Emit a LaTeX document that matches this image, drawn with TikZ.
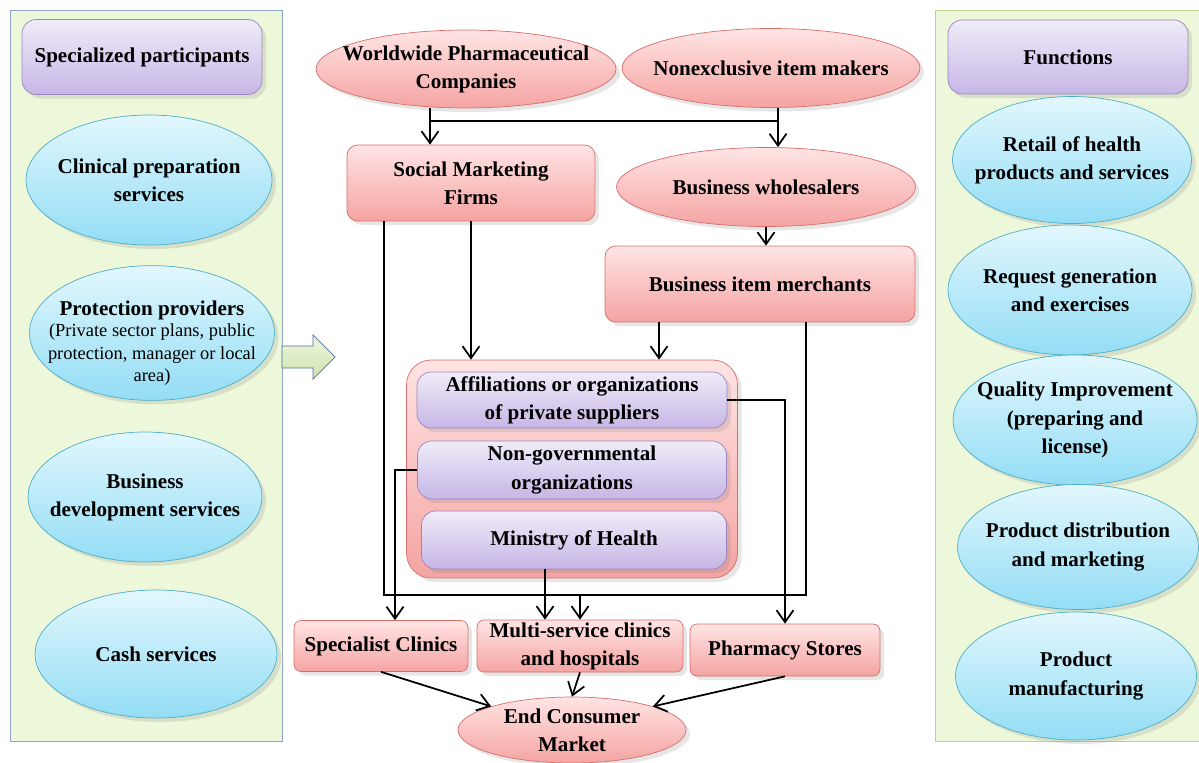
\documentclass[tikz,border=0pt]{standalone}
\usepackage{fontspec}
\setmainfont{Liberation Serif}
\usetikzlibrary{shapes, arrows.meta, calc, shadows}

\definecolor{pinkline}{HTML}{D66E6B}
\definecolor{pinktop}{HTML}{FFE4E4}
\definecolor{pinkbot}{HTML}{F4A4A2}
\definecolor{purpline}{HTML}{9A84C2}
\definecolor{purptop}{HTML}{F0ECF8}
\definecolor{purpbot}{HTML}{C6B6E6}
\definecolor{blueline}{HTML}{4FAEC8}
\definecolor{bluetop}{HTML}{E2F7FD}
\definecolor{bluebot}{HTML}{93DDF5}
\definecolor{panelfill}{HTML}{EDF7DA}
\definecolor{leftline}{HTML}{90A6C8}
\definecolor{rightline}{HTML}{B8D78E}
\definecolor{hollowline}{HTML}{4F6FA8}

\begin{document}
\begin{tikzpicture}[x=0.02cm, y=-0.02cm,
    pinkbox/.style={rectangle, draw=pinkline, top color=pinktop, bottom color=pinkbot, rounded corners=6pt, align=center, inner sep=1pt, font=\fontsize{12}{16}\selectfont\bfseries, drop shadow={opacity=0.2}},
    pinkoval/.style={ellipse, draw=pinkline, top color=pinktop, bottom color=pinkbot, align=center, inner xsep=-30pt, inner ysep=-3pt, font=\fontsize{12}{16}\selectfont\bfseries, drop shadow={opacity=0.2}},
    purpbox/.style={rectangle, draw=purpline, top color=purptop, bottom color=purpbot, rounded corners=8pt, align=center, inner sep=1pt, font=\fontsize{12}{16}\selectfont\bfseries, drop shadow={opacity=0.2}},
    blueoval/.style={ellipse, draw=blueline, top color=bluetop, bottom color=bluebot, align=center, inner xsep=-30pt, inner ysep=-3pt, font=\fontsize{12}{16}\selectfont\bfseries, drop shadow={opacity=0.2}},
    arrow/.style={line width=1pt,->,>={Straight Barb[length=2.4mm,width=3.4mm]}},
    link/.style={line width=1pt}]

    \useasboundingbox (0,0) rectangle (1199,763);

    % side panels
    \draw[fill=panelfill, draw=leftline] (10,10) rectangle (282,741);
    \draw[fill=panelfill, draw=rightline] (935,10) rectangle (1199,741);

    % left column
    \node [purpbox, minimum width=4.8cm, minimum height=1.5cm] (spart) at (142,57) {Specialized participants};
    \node [blueoval, minimum width=4.92cm, minimum height=2.6cm] (clin) at (149,180) {Clinical preparation\\services};
    \node [blueoval, minimum width=4.9cm, minimum height=2.6cm] (prot) at (152,333) {\rule{0pt}{20pt}Protection providers\\[-4pt] \normalfont\fontsize{10.5}{12.5}\selectfont (Private sector plans, public\\[-3pt] \normalfont\fontsize{10.5}{12.5}\selectfont protection, manager or local\\[-3pt] \normalfont\fontsize{10.5}{12.5}\selectfont area)};
    \node [blueoval, minimum width=4.68cm, minimum height=2.6cm] (busdev) at (145,497) {Business\\development services};
    \node [blueoval, minimum width=4.84cm, minimum height=2.56cm] (cash) at (156,654) {Cash services};

    % hollow arrow between panel and chain
    \draw[draw=hollowline, top color=panelfill, bottom color=rightline!70] (282,346) -- (313,346) -- (313,335) -- (335,357) -- (313,379) -- (313,368) -- (282,368) -- cycle;

    % right column
    \node [purpbox, minimum width=4.8cm, minimum height=1.48cm] (func) at (1068,57) {Functions};
    \node [blueoval, minimum width=4.78cm, minimum height=2.54cm] (retail) at (1072,160) {Retail of health\\products and services};
    \node [blueoval, minimum width=4.88cm, minimum height=2.6cm] (request) at (1070,290) {Request generation\\and exercises};
    \node [blueoval, minimum width=4.88cm, minimum height=2.6cm] (quality) at (1075,420) {Quality Improvement\\(preparing and\\license)};
    \node [blueoval, minimum width=4.82cm, minimum height=2.5cm] (distrib) at (1078,547) {Product distribution\\and marketing};
    \node [blueoval, minimum width=4.82cm, minimum height=2.56cm] (manuf) at (1076,676) {Product\\manufacturing};

    % middle chain
    \node [pinkoval, minimum width=6.0cm, minimum height=1.56cm] (wpc) at (466,69) {Worldwide Pharmaceutical\\Companies};
    \node [pinkoval, minimum width=5.96cm, minimum height=1.58cm] (nim) at (771,68) {Nonexclusive item makers};
    \node [pinkbox, minimum width=4.96cm, minimum height=1.52cm] (smf) at (471,183) {Social Marketing\\Firms};
    \node [pinkoval, minimum width=5.98cm, minimum height=1.58cm] (bw) at (766,187) {Business wholesalers};
    \node [pinkbox, minimum width=6.2cm, minimum height=1.52cm] (bim) at (760,284) {Business item merchants};

    \node [pinkbox, rounded corners=14pt, minimum width=6.62cm, minimum height=4.36cm] (grp) at (572,469) {};
    \node [purpbox, minimum width=6.2cm, minimum height=1.12cm] (aff) at (572,400) {Affiliations or organizations\\of private suppliers};
    \node [purpbox, minimum width=6.18cm, minimum height=1.16cm] (ngo) at (572,470) {Non-governmental\\organizations};
    \node [purpbox, minimum width=6.1cm, minimum height=1.16cm] (moh) at (574,540) {Ministry of Health};

    \node [pinkbox, rounded corners=4pt, minimum width=3.48cm, minimum height=1.02cm] (spc) at (381,646) {Specialist Clinics};
    \node [pinkbox, rounded corners=4pt, minimum width=4.12cm, minimum height=1.04cm] (msc) at (580,646) {Multi-service clinics\\and hospitals};
    \node [pinkbox, rounded corners=4pt, minimum width=3.8cm, minimum height=1.04cm] (psc) at (785,650) {Pharmacy Stores};
    \node [pinkoval, minimum width=4.56cm, minimum height=1.32cm] (ecm) at (572,730) {End Consumer\\Market};

    % helper points
    \coordinate (wpcl) at ($(wpc.south)+(-36,0)$);
    \coordinate (nimr) at ($(nim.south)+(7,0)$);
    \coordinate (busl) at (384,595);
    \coordinate (busr) at (806,595);
    \coordinate (busm) at (580,595);
    \coordinate (biml) at ($(bim.south)+(-101,0)$);
    \coordinate (mohl) at ($(moh.south)+(-29,0)$);
    \coordinate (spcin) at ($(spc.north)+(14,0)$);

    % connectors
    \draw [arrow] (wpcl) -- (wpcl |- smf.north);
    \draw [arrow] (nimr) -- (nimr |- bw.north);
    \draw [link] (wpcl |- 0,121) -- (nimr |- 0,121);
    \draw [arrow] (bw.south) -- (bw.south |- bim.north);
    \draw [arrow] (smf.south) -- (smf.south |- grp.north);
    \draw [arrow] (biml) -- (biml |- grp.north);
    \draw [link] (busl |- smf.south) -- (busl) -- (busr) -- (busr |- bim.south);
    \draw [arrow] (busm) -- (busm |- msc.north);
    \draw [arrow] (mohl) -- (mohl |- msc.north);
    \draw [arrow] (aff.east) -| (psc.north);
    \draw [arrow] (ngo.west) -| (spcin);
    \draw [arrow] (spc.south) -- (ecm.north west);
    \draw [arrow] (msc.south) -- (ecm.north);
    \draw [arrow] (psc.south) -- (ecm.north east);
\end{tikzpicture}
\end{document}
